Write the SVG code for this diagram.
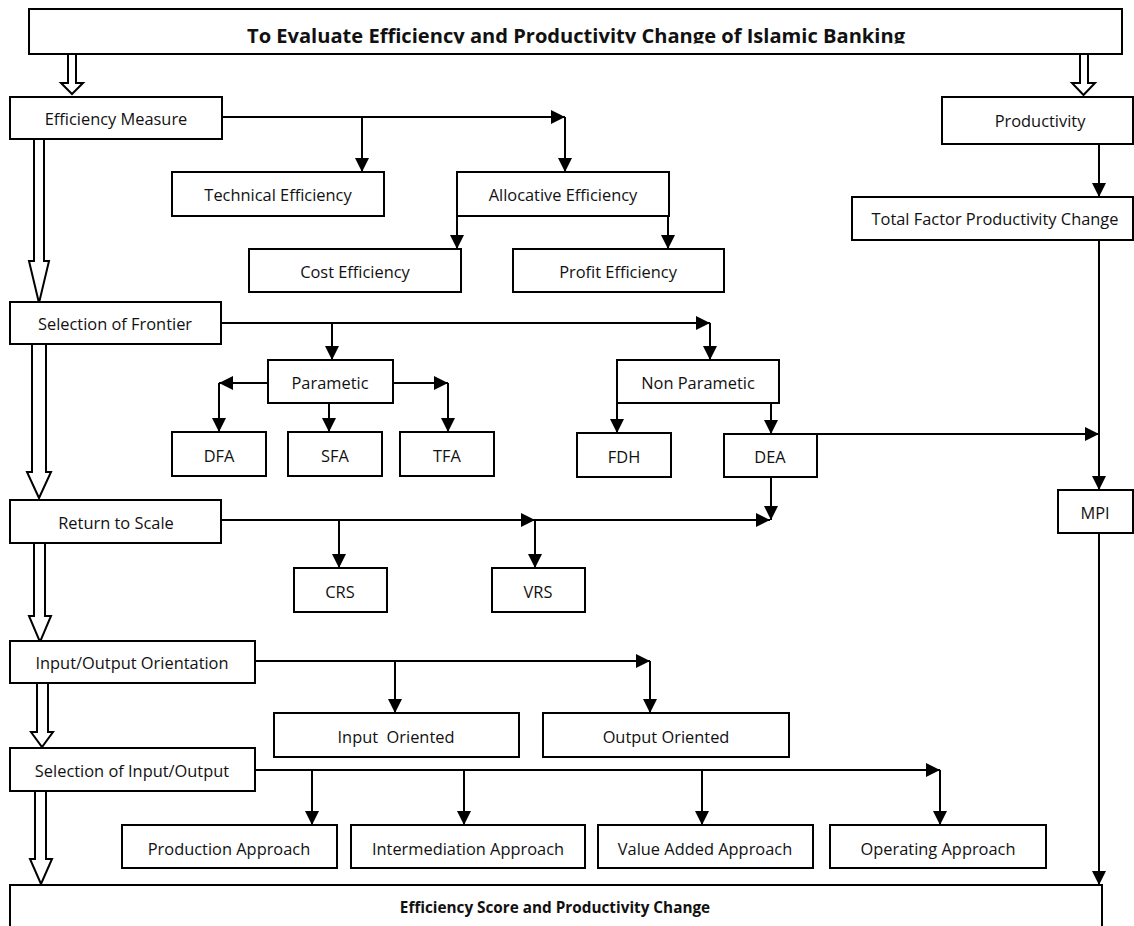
<svg xmlns="http://www.w3.org/2000/svg" width="1134" height="926" viewBox="0 0 1134 926">
<style>
  .box { fill: #fff; stroke: #000; stroke-width: 2; }
  .lbl { font-family: "Open Sans", "Liberation Sans", sans-serif; font-size: 16.4px; fill: #111; text-anchor: middle; dominant-baseline: central; }
  .ttl { font-family: "Open Sans", "Liberation Sans", sans-serif; font-weight: bold; fill: #111; text-anchor: middle; }
  .ln { fill: none; stroke: #000; stroke-width: 2; }
  .arw { fill: none; stroke: #000; stroke-width: 2; marker-end: url(#ah); }
  .dbl { fill: #fff; stroke: #000; stroke-width: 2; stroke-linejoin: miter; }
</style>
<defs>
  <marker id="ah" markerUnits="userSpaceOnUse" markerWidth="15" markerHeight="15" refX="14" refY="7" orient="auto">
    <path d="M0,0 L14,7 L0,14 z" fill="#000"/>
  </marker>
  <clipPath id="ttlclip"><rect x="30" y="10" width="1090" height="33.5"/></clipPath>
</defs>
<rect width="1134" height="926" fill="#fff"/>

<g id="title">
  <rect class="box" x="29" y="9" width="1093" height="45"/>
  <text class="ttl" x="576" y="43" font-size="19.5" textLength="658" lengthAdjust="spacingAndGlyphs" clip-path="url(#ttlclip)">To Evaluate Efficiency and Productivity Change of Islamic Banking</text>
</g>

<g id="double-arrows">
  <polygon class="dbl" points="68,54 76,54 76,83 83,83 72,94 61,83 68,83"/>
  <polygon class="dbl" points="1080,54 1088,54 1088,83 1095,83 1083.5,95 1072,83 1080,83"/>
  <polygon class="dbl" points="34,139 44,139 44,261 49,261 39,303 29,261 34,261"/>
  <polygon class="dbl" points="32,344 46,344 46,472 51,472 39,498 27,472 32,472"/>
  <polygon class="dbl" points="34,543 45,543 45,616 51,616 40,642 29,616 34,616"/>
  <polygon class="dbl" points="37,683 48,683 48,732 53,732 42,747 31,732 37,732"/>
  <polygon class="dbl" points="35,791 46,791 46,859 52,859 41,884 30,859 35,859"/>
</g>

<g id="connectors">
  <path class="arw" d="M222,117 H565"/>
  <path class="arw" d="M362,117 V172"/>
  <path class="arw" d="M565,117 V172"/>
  <path class="arw" d="M457,216 V249"/>
  <path class="arw" d="M668,216 V249"/>
  <path class="arw" d="M1099,144 V197"/>
  <path class="arw" d="M1099,240 V490"/>
  <path class="arw" d="M1099,533 V885"/>
  <path class="arw" d="M221,323 H710"/>
  <path class="arw" d="M332,323 V360"/>
  <path class="arw" d="M710,323 V360"/>
  <path class="arw" d="M268,383 H219"/>
  <path class="arw" d="M219,383 V432"/>
  <path class="arw" d="M329,403 V432"/>
  <path class="arw" d="M393,383 H448"/>
  <path class="arw" d="M448,383 V432"/>
  <path class="arw" d="M617,403 V433"/>
  <path class="arw" d="M771,403 V434"/>
  <path class="arw" d="M817,434 H1099"/>
  <path class="arw" d="M771,477 V520"/>
  <path class="arw" d="M221,520 H535"/>
  <path class="arw" d="M535,520 H770"/>
  <path class="arw" d="M339,520 V568"/>
  <path class="arw" d="M535,520 V568"/>
  <path class="arw" d="M255,661 H650"/>
  <path class="arw" d="M395,661 V713"/>
  <path class="arw" d="M650,661 V713"/>
  <path class="arw" d="M255,770 H940"/>
  <path class="arw" d="M312,770 V825"/>
  <path class="arw" d="M464,770 V825"/>
  <path class="arw" d="M702,770 V825"/>
  <path class="arw" d="M940,770 V825"/>
</g>

<g id="efficiency-measure"><rect class="box" x="10" y="97" width="212" height="42"/><text class="lbl" x="116" y="118">Efficiency Measure</text></g>
<g id="productivity"><rect class="box" x="942" y="97" width="191" height="47"/><text class="lbl" x="1040" y="120">Productivity</text></g>
<g id="technical-efficiency"><rect class="box" x="172" y="172" width="212" height="44"/><text class="lbl" x="278" y="194">Technical Efficiency</text></g>
<g id="allocative-efficiency"><rect class="box" x="457" y="172" width="212" height="44"/><text class="lbl" x="563" y="194">Allocative Efficiency</text></g>
<g id="cost-efficiency"><rect class="box" x="249" y="249" width="212" height="43"/><text class="lbl" x="355" y="271">Cost Efficiency</text></g>
<g id="profit-efficiency"><rect class="box" x="513" y="249" width="211" height="43"/><text class="lbl" x="618" y="271">Profit Efficiency</text></g>
<g id="tfp-change"><rect class="box" x="852" y="197" width="281" height="43"/><text class="lbl" x="995" y="218">Total Factor Productivity Change</text></g>
<g id="selection-frontier"><rect class="box" x="10" y="302" width="211" height="42"/><text class="lbl" x="115" y="323">Selection of Frontier</text></g>
<g id="parametic"><rect class="box" x="268" y="360" width="125" height="43"/><text class="lbl" x="330" y="382">Parametic</text></g>
<g id="non-parametic"><rect class="box" x="617" y="360" width="162" height="43"/><text class="lbl" x="698" y="382">Non Parametic</text></g>
<g id="dfa"><rect class="box" x="172" y="432" width="94" height="44"/><text class="lbl" x="219" y="455">DFA</text></g>
<g id="sfa"><rect class="box" x="288" y="432" width="94" height="44"/><text class="lbl" x="335" y="455">SFA</text></g>
<g id="tfa"><rect class="box" x="400" y="432" width="94" height="44"/><text class="lbl" x="447" y="455">TFA</text></g>
<g id="fdh"><rect class="box" x="577" y="433" width="94" height="44"/><text class="lbl" x="624" y="456">FDH</text></g>
<g id="dea"><rect class="box" x="724" y="434" width="93" height="43"/><text class="lbl" x="770" y="456">DEA</text></g>
<g id="mpi"><rect class="box" x="1058" y="490" width="75" height="43"/><text class="lbl" x="1095" y="512">MPI</text></g>
<g id="return-to-scale"><rect class="box" x="10" y="500" width="211" height="43"/><text class="lbl" x="116" y="522">Return to Scale</text></g>
<g id="crs"><rect class="box" x="294" y="568" width="93" height="44"/><text class="lbl" x="340" y="591">CRS</text></g>
<g id="vrs"><rect class="box" x="492" y="568" width="93" height="44"/><text class="lbl" x="538" y="591">VRS</text></g>
<g id="io-orientation"><rect class="box" x="10" y="641" width="245" height="42"/><text class="lbl" x="132" y="662">Input/Output Orientation</text></g>
<g id="input-oriented"><rect class="box" x="274" y="713" width="245" height="44"/><text class="lbl" x="396" y="736" style="white-space:pre">Input  Oriented</text></g>
<g id="output-oriented"><rect class="box" x="543" y="713" width="246" height="44"/><text class="lbl" x="666" y="736">Output Oriented</text></g>
<g id="selection-io"><rect class="box" x="10" y="748" width="245" height="43"/><text class="lbl" x="132" y="770">Selection of Input/Output</text></g>
<g id="production-approach"><rect class="box" x="122" y="825" width="215" height="43"/><text class="lbl" x="229" y="848">Production Approach</text></g>
<g id="intermediation-approach"><rect class="box" x="351" y="825" width="234" height="43"/><text class="lbl" x="468" y="848">Intermediation Approach</text></g>
<g id="value-added-approach"><rect class="box" x="598" y="825" width="215" height="43"/><text class="lbl" x="705" y="848">Value Added Approach</text></g>
<g id="operating-approach"><rect class="box" x="830" y="825" width="216" height="43"/><text class="lbl" x="938" y="848">Operating Approach</text></g>
<g id="result"><rect class="box" x="10" y="885" width="1092" height="50"/><text class="ttl" x="555" y="913" font-size="15.3">Efficiency Score and Productivity Change</text></g>
</svg>
